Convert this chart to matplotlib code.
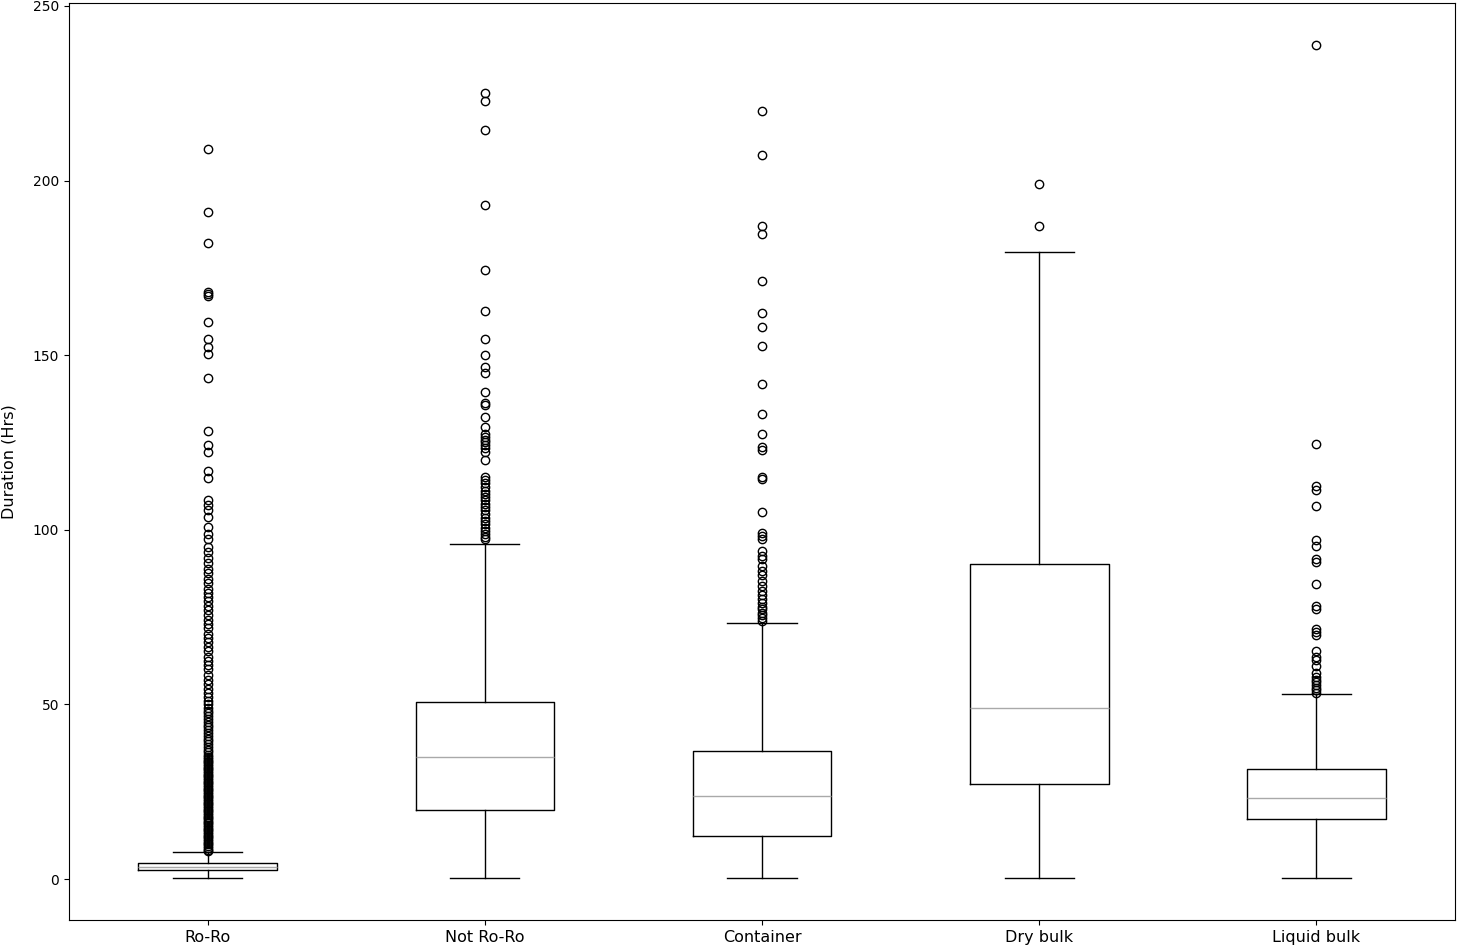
import matplotlib
matplotlib.use("Agg")
import matplotlib.pyplot as plt

# --------------- box statistics (hours) ---------------
labels = ["Ro-Ro", "Not Ro-Ro", "Container", "Dry bulk", "Liquid bulk"]
whislo = [0.2, 0.3, 0.3, 0.3, 0.3]
q1 = [2.6, 19.7, 12.3, 27.1, 17.1]
med = [3.4, 34.9, 23.7, 49.1, 23.1]
q3 = [4.7, 50.6, 36.6, 90.3, 31.4]
whishi = [7.8, 96.0, 73.4, 179.4, 52.9]

fliers_roro = [209.0, 190.9, 182.1, 168.0, 167.4, 166.8, 159.5, 154.5, 152.4,
               150.3, 143.6, 128.3, 124.3, 122.4, 116.9, 114.8, 108.6, 107.1,
               105.7, 103.8, 100.9, 98.7, 97.3, 95.0, 93.6, 92.0, 90.5, 88.8,
               87.6, 86.0, 84.8, 83.0, 82.0, 80.8, 79.5, 78.3, 77.0, 75.6, 74.2,
               73.0, 71.8, 70.3, 69.0, 67.8, 66.5, 65.2, 63.6, 62.5, 61.2, 60.0,
               58.5, 57.0, 55.8, 54.5, 53.3, 52.0, 51.0, 50.0, 49.0, 48.2, 47.4,
               46.6, 45.8, 45.0, 44.2, 43.4, 42.6, 41.8, 41.0, 40.2, 39.4, 38.6,
               37.8, 37.0, 36.3, 35.6, 34.9, 34.4, 33.9, 33.4, 32.9, 32.4, 31.9,
               31.4, 30.9, 30.4, 29.9, 29.4, 28.9, 28.4, 27.9, 27.4, 26.9, 26.4,
               25.9, 25.4, 24.9, 24.4, 23.9, 23.4, 22.9, 22.4, 21.9, 21.4, 20.9,
               20.4, 19.9, 19.4, 18.9, 18.4, 17.9, 17.4, 16.9, 16.4, 15.9, 15.4,
               14.9, 14.4, 13.9, 13.4, 12.9, 12.4, 11.9, 11.4, 10.9, 10.4, 9.9,
               9.4, 8.9, 8.4, 7.9]
fliers_notroro = [225.2, 222.9, 214.5, 192.9, 174.3, 162.7, 154.5, 150.0, 146.5,
                  144.8, 139.5, 136.2, 135.7, 132.4, 129.5, 127.5, 126.6, 125.8,
                  125.0, 124.2, 123.5, 122.4, 120.0, 115.2, 114.3, 113.3, 112.3,
                  111.2, 110.3, 109.3, 108.4, 107.4, 106.5, 105.6, 104.6, 103.5,
                  102.5, 101.6, 100.6, 99.7, 98.9, 98.0, 97.3]
fliers_container = [219.9, 207.3, 187.1, 184.6, 171.1, 162.0, 158.1, 152.5, 141.8,
                    133.1, 127.3, 123.7, 122.7, 115.2, 114.5, 105.1, 99.2, 98.3,
                    97.5, 93.8, 92.6, 91.5, 89.5, 88.3, 87.0, 85.2, 83.8, 82.5,
                    81.3, 80.2, 79.1, 78.0, 77.2, 76.3, 75.5, 74.6, 74.0]
fliers_drybulk = [199.1, 187.1]
fliers_liquid = [238.9, 124.6, 112.6, 111.3, 106.7, 97.1, 95.4, 91.6, 90.9, 84.4,
                 78.1, 77.3, 71.6, 70.6, 70.0, 65.3, 63.7, 62.6, 61.0, 59.0, 57.8,
                 57.0, 56.3, 55.5, 54.8, 54.0, 53.3]
fliers = [fliers_roro, fliers_notroro, fliers_container, fliers_drybulk, fliers_liquid]

stats = []
for i in range(len(labels)):
    stats.append(dict(label=labels[i], whislo=whislo[i], q1=q1[i], med=med[i],
                      q3=q3[i], whishi=whishi[i], fliers=fliers[i]))

# --------------- plot ---------------
fig = plt.figure(figsize=(14.57, 9.51), dpi=100)
ax = fig.add_axes([69 / 1457, 31 / 951, 1386 / 1457, 917 / 951])

ax.bxp(stats, showfliers=True,
       boxprops=dict(color="black"),
       whiskerprops=dict(color="black"),
       capprops=dict(color="black"),
       medianprops=dict(color="darkgray"),
       flierprops=dict(marker="o", markerfacecolor="none", markeredgecolor="black"))

ax.tick_params(axis="x", labelsize=11.5)
ax.set_ylabel("Duration (Hrs)", fontsize=11.5, labelpad=12)

fig.savefig("out.png", dpi=100)
